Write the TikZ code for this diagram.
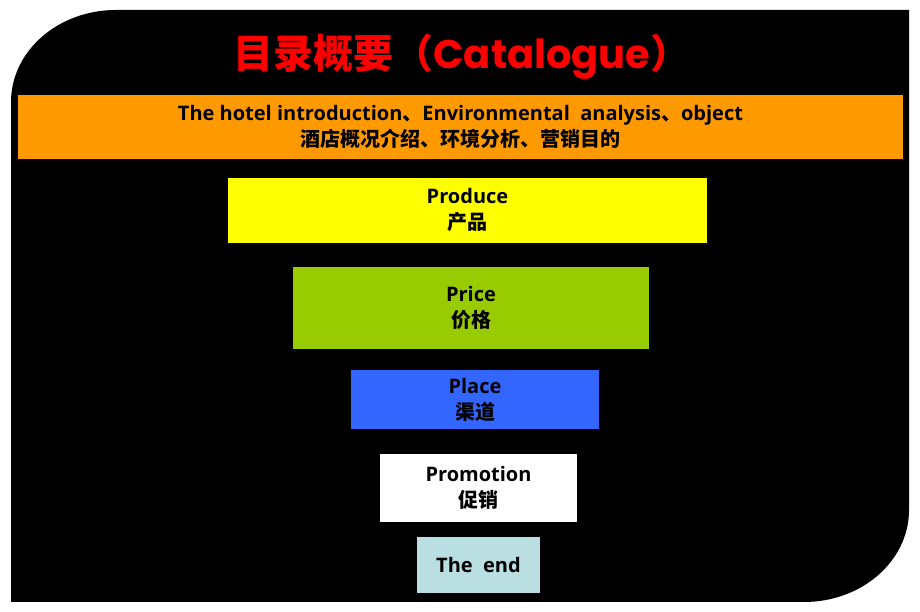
\documentclass[tikz,border=0pt]{standalone}
\usepackage{fontspec}
\setmainfont{Open Sans}
\newfontfamily\cjk{Noto Sans CJK SC}
\newfontfamily\titlelatin{Poppins}
\definecolor{bandorange}{HTML}{FF9900}
\definecolor{boxyellow}{HTML}{FFFF00}
\definecolor{boxgreen}{HTML}{99CC00}
\definecolor{boxblue}{HTML}{3366FF}
\definecolor{boxcyan}{HTML}{B9DFE3}
\definecolor{titlered}{HTML}{FF0000}
\begin{document}
\begin{tikzpicture}[x=1pt,y=1pt,
  box/.style={inner sep=0pt, align=center, text=black,
    font=\bfseries\fontsize{20}{26}\selectfont}]
\useasboundingbox (0,0) rectangle (920,612);
\fill[white] (0,0) rectangle (920,612);
% black background shape
\fill[black] (11,10) -- (11,510)
  arc[start angle=180, end angle=90, x radius=105pt, y radius=92pt]
  -- (909,602) -- (909,102)
  arc[start angle=0, end angle=-90, x radius=105pt, y radius=92pt]
  -- cycle;
% title
\node[text=titlered, inner sep=0pt] (title) at (462,555)
  {\fontsize{40}{42}\selectfont\cjk\bfseries 目录概要（{\titlelatin\bfseries Catalogue}）};
% boxes
\node[box, fill=bandorange, minimum width=885pt, minimum height=64pt] (intro) at (460.5,485)
  {The hotel introduction{\cjk 、}Environmental~ analysis{\cjk 、}object\\{\cjk 酒店概况介绍、环境分析、营销目的}};
\node[box, fill=boxyellow, minimum width=479pt, minimum height=65pt] (produce) at (467.5,401.5)
  {Produce\\{\cjk 产品}};
\node[box, fill=boxgreen, minimum width=356pt, minimum height=82pt] (price) at (471,304)
  {Price\\{\cjk 价格}};
\node[box, fill=boxblue, minimum width=248pt, minimum height=59pt] (place) at (475,212.5)
  {Place\\{\cjk 渠道}};
\node[box, fill=white, minimum width=197pt, minimum height=68pt] (promotion) at (478.5,124)
  {Promotion\\{\cjk 促销}};
\node[box, fill=boxcyan, minimum width=123pt, minimum height=56pt] (theend) at (478.5,47)
  {The~ end};
\end{tikzpicture}
\end{document}
